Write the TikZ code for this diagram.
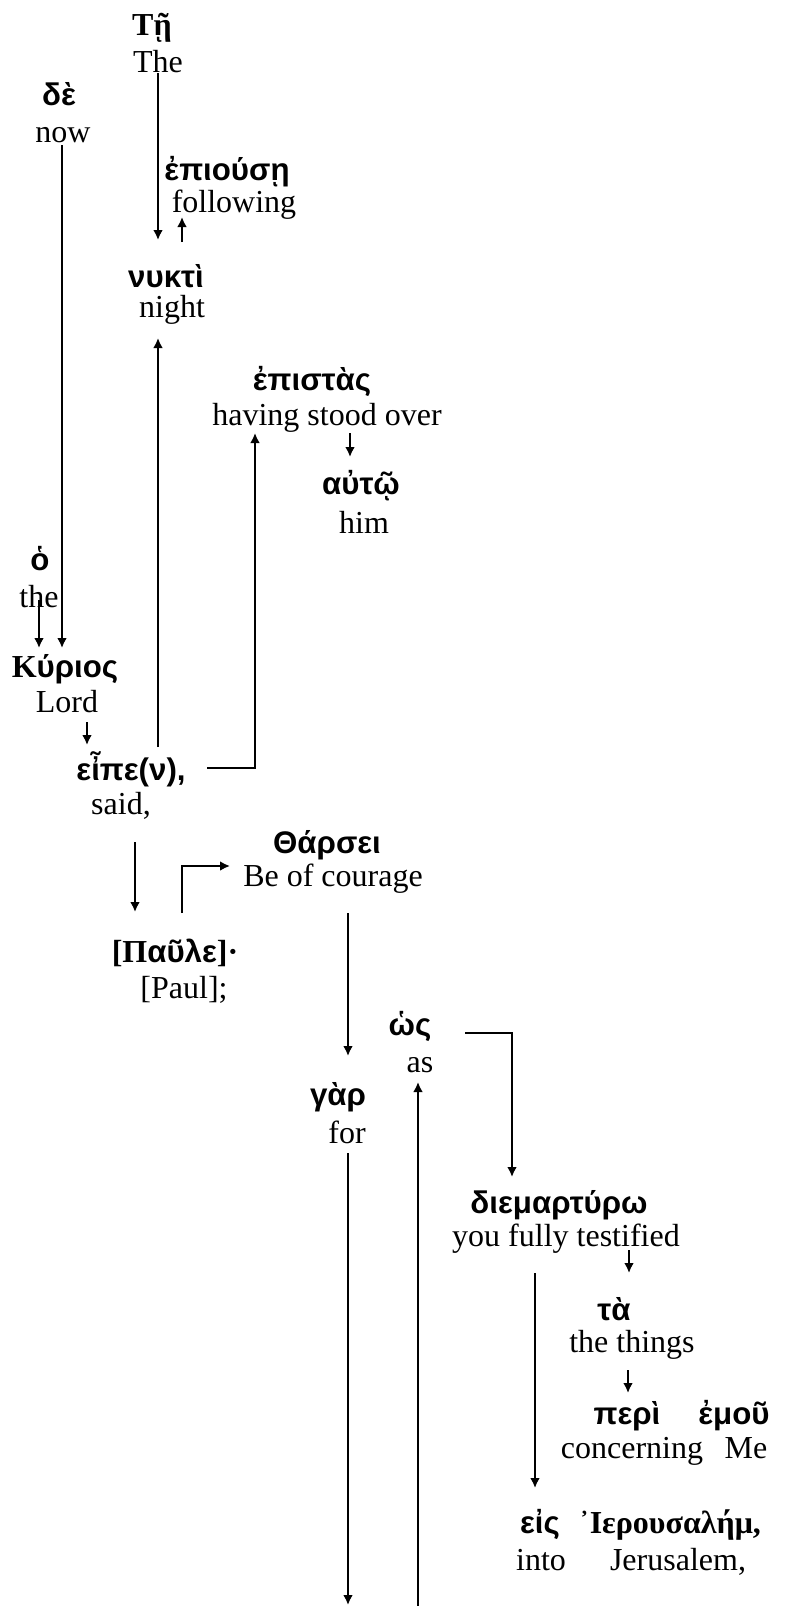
\documentclass[tikz,border=0pt]{standalone}
\usepackage{fontspec}
\setmainfont{Liberation Serif}
\newfontfamily\grfont{Liberation Sans}
\usetikzlibrary{calc,arrows.meta}
\newcommand\rmcap[1]{{\normalfont\bfseries\fontsize{12.8}{15}\selectfont #1}}
\tikzset{
  gk/.style={font=\grfont\bfseries\fontsize{12.5}{14}\selectfont, anchor=base, inner sep=0pt},
  en/.style={font=\fontsize{12.8}{15}\selectfont, anchor=base, inner sep=0pt},
}
\begin{document}
\begin{tikzpicture}[x=0.4pt, y=-0.4pt, >={Latex[length=4pt,width=3.9pt]}, line width=0.75pt]
\useasboundingbox (0,0) rectangle (786,1606);
% words: greek above, english below (px, y down)
\node[gk] (te) at (152,35) {\rmcap{Τῇ}};
\node[en] (the) at (158,72) {The};
\node[gk] (de) at (59,105) {δὲ};
\node[en] (now) at (63,142) {now};
\node[gk] (epiouse) at (227,180) {ἐπιούσῃ};
\node[en] (following) at (234,212) {following};
\node[gk] (nukti) at (166,287) {νυκτὶ};
\node[en] (night) at (172,317) {night};
\node[gk] (epistas) at (312,390) {ἐπιστὰς};
\node[en] (stood) at (327,425) {having stood over};
\node[gk] (auto) at (361,494) {αὐτῷ};
\node[en] (him) at (364,533) {him};
\node[gk] (ho) at (40,570) {ὁ};
\node[en] (article) at (39,607) {the};
\node[gk] (kurios) at (65,677) {\rmcap{Κ}ύριος};
\node[en] (lord) at (67,712) {Lord};
\node[gk] (eipen) at (131,780) {εἶπε(ν),};
\node[en] (said) at (121,814) {said,};
\node[gk] (tharsei) at (327,853) {Θάρσει};
\node[en] (courage) at (333,886) {Be of courage};
\node[gk] (paule) at (175,962) {\rmcap{[Π}αῦλε\rmcap{]·}};
\node[en] (paul) at (184,998) {[Paul];};
\node[gk] (hos) at (410,1035) {ὡς};
\node[en] (as) at (420,1072) {as};
\node[gk] (gar) at (338,1105) {γὰρ};
\node[en] (for) at (347,1143) {for};
\node[gk] (diem) at (559,1213) {διεμαρτύρω};
\node[en] (testified) at (566,1246) {you fully testified};
\node[gk] (ta) at (614,1320) {τὰ};
\node[en] (things) at (632,1352) {the things};
\node[gk] (peri) at (627,1424) {περὶ};
\node[gk] (emou) at (734,1424) {ἐμοῦ};
\node[en] (concerning) at (632,1458) {concerning};
\node[en] (me) at (746,1458) {Me};
\node[gk] (eis) at (540,1533) {εἰς};
\node[gk] (ier) at (670,1533) {\rmcap{᾿Ιερουσαλήμ,}};
\node[en] (into) at (541,1570) {into};
\node[en] (jerusalem) at (678,1570) {Jerusalem,};
\coordinate (forend) at (348,1605);
\coordinate (asfoot) at (418,1606);
% connectors
\draw[->] ($(the.base)+(0,1)$) -- ($(nukti.base)+(-8,-47)$);
\draw[->] ($(nukti.base)+(16,-45)$) -- ($(following.base)+(-52,5)$);
\draw[->] ($(now.base)+(-1,3)$) -- ($(kurios.base)+(-3,-29)$);
\draw[->] ($(article.base)+(0,-7)$) -- ($(kurios.base)+(-26,-29)$);
\draw[->] ($(lord.base)+(20,10)$) -- ($(eipen.base)+(-44,-35)$);
\draw[->] ($(eipen.base)+(27,-33)$) -- ($(night.base)+(-14,21)$);
\draw[->] ($(eipen.base)+(76,-12)$) -| ($(stood.base)+(-72,8)$);
\draw[->] ($(stood.base)+(23,8)$) -- ($(auto.base)+(-11,-37)$);
\draw[->] ($(said.base)+(14,28)$) -- ($(paule.base)+(-40,-50)$);
\draw[->] ($(paule.base)+(7,-49)$) |- ($(courage.base)+(-103,-20)$);
\draw[->] ($(courage.base)+(15,27)$) -- ($(gar.base)+(10,-49)$);
\draw[->] ($(hos.base)+(55,-2)$) -| ($(diem.base)+(-47,-36)$);
\draw[->] ($(for.base)+(1,10)$) -- (forend);
\draw[->] (asfoot) -- ($(as.base)+(-2,10)$);
\draw[->] ($(testified.base)+(63,4)$) -- ($(ta.base)+(15,-47)$);
\draw[->] ($(testified.base)+(-31,27)$) -- ($(eis.base)+(-5,-45)$);
\draw[->] ($(things.base)+(-4,18)$) -- ($(peri.base)+(1,-31)$);
\end{tikzpicture}
\end{document}
